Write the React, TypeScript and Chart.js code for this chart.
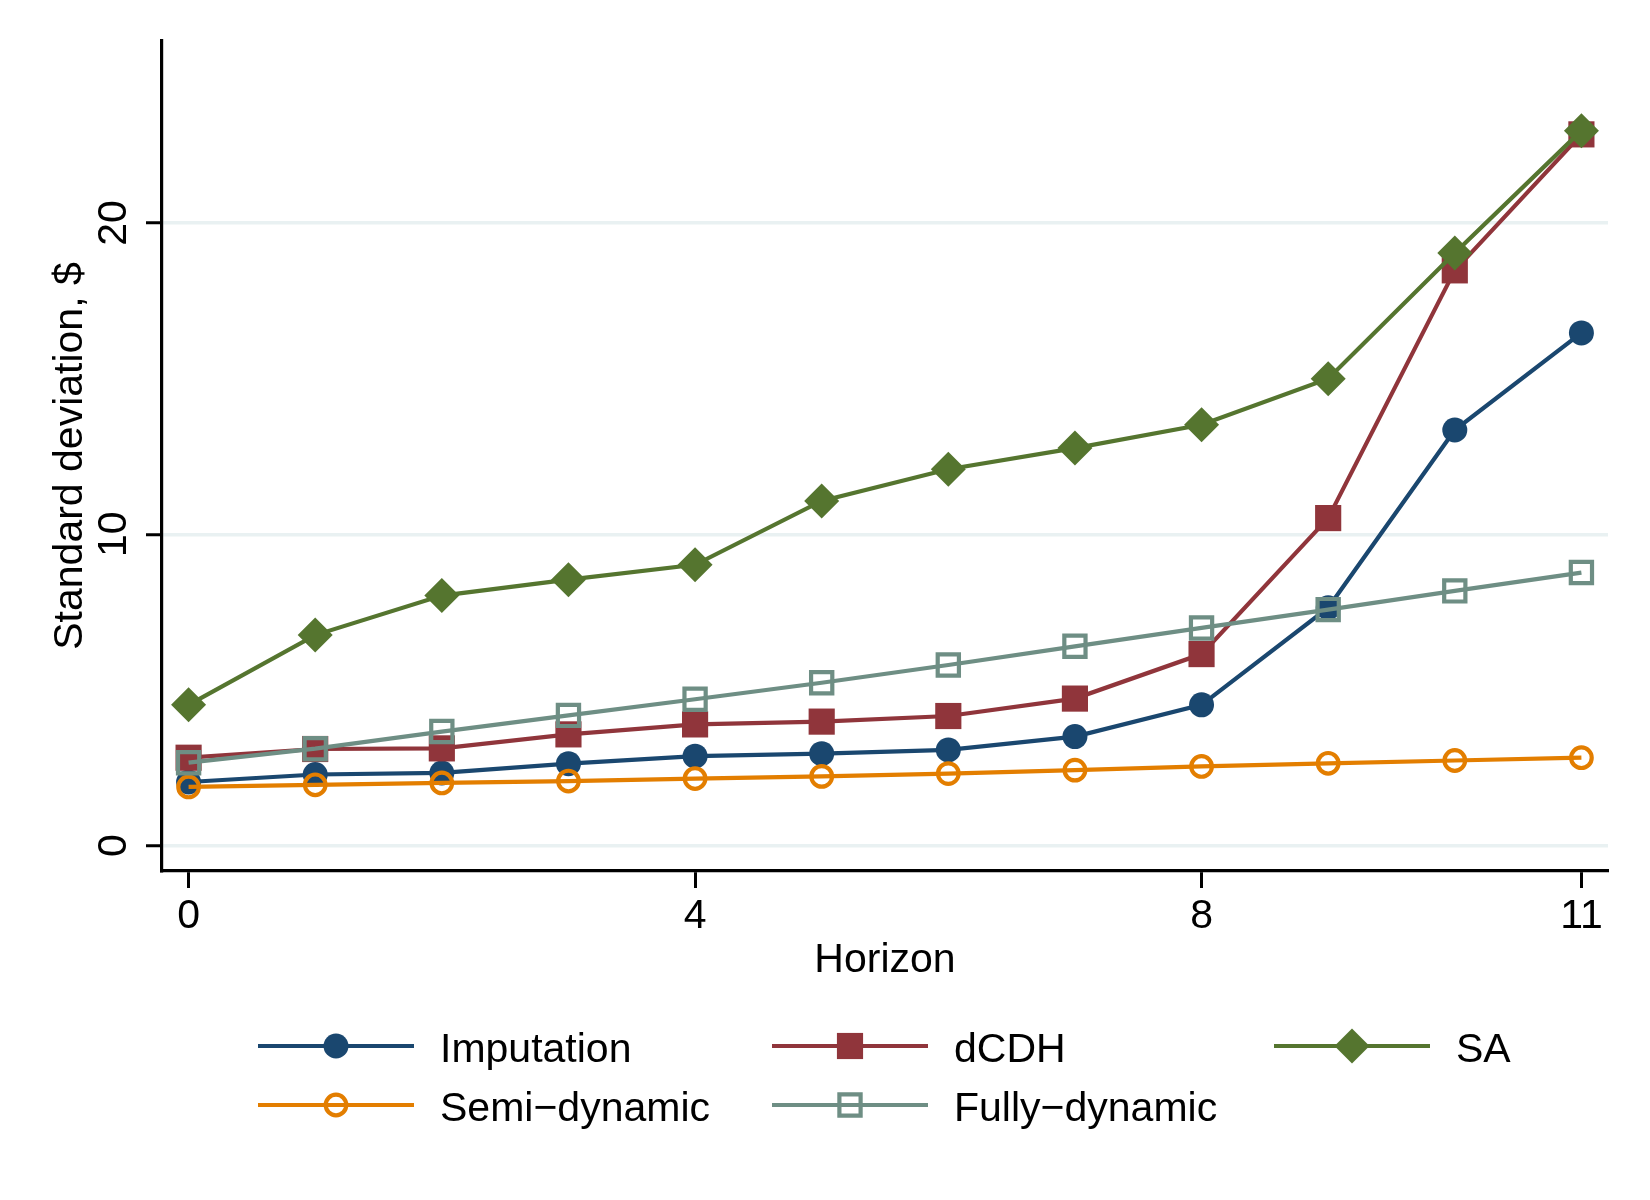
import React, { useEffect, useRef } from 'react';
import { Chart, registerables } from 'chart.js';
import { drawPoint } from 'chart.js/helpers';

Chart.register(...registerables);

const horizons = [0, 1, 2, 3, 4, 5, 6, 7, 8, 9, 10, 11];
const xTicks = [0, 4, 8, 11];
const yTicks = [0, 10, 20];

const imputation = [2.04, 2.28, 2.33, 2.63, 2.87, 2.95, 3.07, 3.5, 4.52, 7.64, 13.35, 16.47];
const dcdh = [2.82, 3.1, 3.12, 3.57, 3.89, 3.98, 4.16, 4.72, 6.15, 10.52, 18.48, 22.85];
const sa = [4.52, 6.76, 8.03, 8.54, 9.02, 11.07, 12.09, 12.77, 13.52, 15.0, 19.04, 22.97];
const semiDynamic = [1.88, 1.95, 2.01, 2.07, 2.15, 2.22, 2.31, 2.42, 2.54, 2.64, 2.73, 2.82];
const fullyDynamic = [2.66, 3.11, 3.66, 4.18, 4.7, 5.23, 5.8, 6.4, 6.99, 7.58, 8.18, 8.77];

const FONT = '41px "Liberation Sans", Arial, Helvetica, sans-serif';
const LINE_W = 4.2;

type Marker = { style: string; radius: number; hollow: boolean };

const series = [
    { label: 'Imputation', data: imputation, color: '#1a476f', marker: { style: 'circle', radius: 12.5, hollow: false } },
    { label: 'dCDH', data: dcdh, color: '#90353b', marker: { style: 'rect', radius: 18.5, hollow: false } },
    { label: 'SA', data: sa, color: '#55752f', marker: { style: 'rectRot', radius: 17.5, hollow: false } },
    { label: 'Semi\u2212dynamic', data: semiDynamic, color: '#e37e00', marker: { style: 'circle', radius: 10.3, hollow: true } },
    { label: 'Fully\u2212dynamic', data: fullyDynamic, color: '#6e8e84', marker: { style: 'rect', radius: 15, hollow: true } },
];

// legend grid: 3 columns, 2 rows (Stata style)
const legendCols = [258, 772, 1274];
const legendRows = [1046, 1105];

const setMarker = (ctx: CanvasRenderingContext2D, color: string, m: Marker) => {
    ctx.fillStyle = m.hollow ? 'rgba(0,0,0,0)' : color;
    ctx.strokeStyle = color;
    ctx.lineWidth = m.hollow ? LINE_W : 0;
};

const textPlugin = {
    id: 'stataText',
    afterDraw(chart: any) {
        const { ctx, scales, chartArea } = chart;
        const xs = scales.x;
        const ys = scales.y;
        ctx.save();
        ctx.font = FONT;
        ctx.fillStyle = '#000';
        ctx.textBaseline = 'alphabetic';

        // x tick labels
        ctx.textAlign = 'center';
        xTicks.forEach((t) => {
            ctx.fillText(String(t), xs.getPixelForValue(t), 927.5);
        });

        // x title
        ctx.fillText('Horizon', (chartArea.left + chartArea.right) / 2, 972);

        // y tick labels (rotated)
        yTicks.forEach((t) => {
            ctx.save();
            ctx.translate(126, ys.getPixelForValue(t));
            ctx.rotate(-Math.PI / 2);
            ctx.textAlign = 'center';
            ctx.fillText(String(t), 0, 0);
            ctx.restore();
        });

        // y title
        ctx.save();
        ctx.translate(82, (chartArea.top + chartArea.bottom) / 2);
        ctx.rotate(-Math.PI / 2);
        ctx.textAlign = 'center';
        ctx.fillText('Standard deviation, $', 0, 0);
        ctx.restore();

        // legend
        series.forEach((s, i) => {
            const x0 = legendCols[i % 3];
            const y = legendRows[Math.floor(i / 3)];
            ctx.beginPath();
            ctx.strokeStyle = s.color;
            ctx.lineWidth = LINE_W;
            ctx.moveTo(x0, y);
            ctx.lineTo(x0 + 156, y);
            ctx.stroke();
            setMarker(ctx, s.color, s.marker);
            drawPoint(ctx, { pointStyle: s.marker.style as any, radius: s.marker.radius, rotation: 0, borderWidth: s.marker.hollow ? LINE_W : 0 }, x0 + 78, y);
            ctx.fillStyle = '#000';
            ctx.textAlign = 'left';
            ctx.fillText(s.label, x0 + 182, y + 15.5);
        });
        ctx.restore();
    },
};

const App: React.FC = () => {
    const canvasRef = useRef<HTMLCanvasElement>(null);

    useEffect(() => {
        document.body.style.margin = '0';
        if (!canvasRef.current) return;
        const ctx = canvasRef.current.getContext('2d');
        if (!ctx) return;

        const chart = new Chart(ctx, {
            type: 'line',
            data: {
                datasets: series.map((s, i) => ({
                    label: s.label,
                    data: horizons.map((h, j) => ({ x: h, y: s.data[j] })),
                    borderColor: s.color,
                    borderWidth: LINE_W,
                    tension: 0,
                    fill: false,
                    pointStyle: s.marker.style as any,
                    pointRadius: s.marker.radius,
                    pointHoverRadius: s.marker.radius,
                    pointBackgroundColor: s.marker.hollow ? 'rgba(0,0,0,0)' : s.color,
                    pointBorderColor: s.color,
                    pointBorderWidth: s.marker.hollow ? LINE_W : 0,
                    order: series.length - i,
                    clip: false as any,
                })),
            },
            options: {
                responsive: false,
                animation: false,
                events: [],
                layout: { padding: { top: 41, right: 42, left: 0, bottom: 0 } },
                plugins: {
                    legend: { display: false },
                    tooltip: { enabled: false },
                },
                scales: {
                    x: {
                        type: 'linear',
                        min: -0.21,
                        max: 11.21,
                        afterFit: (s: any) => { s.height = 1200 - 871; },
                        afterBuildTicks: (s: any) => { s.ticks = xTicks.map((v) => ({ value: v })); },
                        ticks: { display: false },
                        grid: {
                            drawOnChartArea: false,
                            drawTicks: true,
                            tickLength: 17,
                            tickColor: '#000',
                            tickWidth: 3,
                        },
                        border: { display: true, color: '#000', width: 3.2 },
                    },
                    y: {
                        type: 'linear',
                        min: -0.82,
                        max: 25.85,
                        afterFit: (s: any) => { s.width = 162; },
                        afterBuildTicks: (s: any) => { s.ticks = yTicks.map((v) => ({ value: v })); },
                        ticks: { display: false },
                        grid: {
                            drawOnChartArea: true,
                            color: '#e9f1f2',
                            lineWidth: 3.5,
                            drawTicks: true,
                            tickLength: 16,
                            tickColor: '#000',
                            tickWidth: 3,
                        },
                        border: { display: true, color: '#000', width: 3.2 },
                    },
                },
            },
            plugins: [textPlugin],
        });

        return () => {
            chart.destroy();
        };
    }, []);

    return <canvas ref={canvasRef} width={1650} height={1200} style={{ display: 'block' }} />;
};

export default App;
